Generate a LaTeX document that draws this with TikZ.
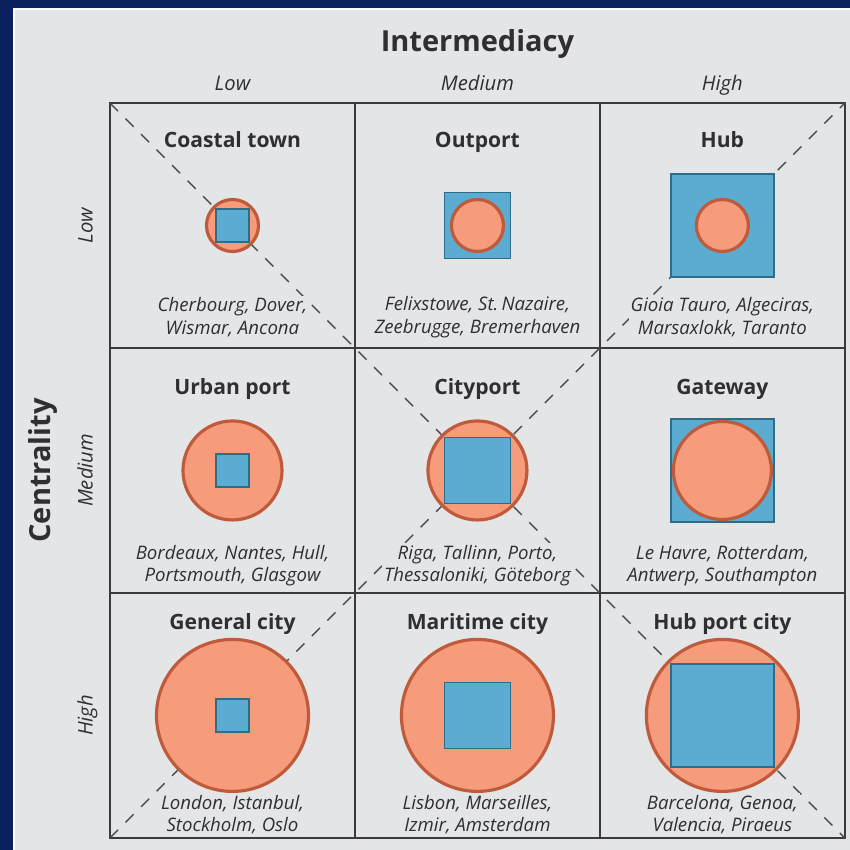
\documentclass[tikz,border=0pt]{standalone}
\usepackage{fontspec}
\setmainfont{Open Sans}
\usetikzlibrary{positioning}
\definecolor{navy}{HTML}{0B215E}
\definecolor{panelgray}{HTML}{E4E5E7}
\definecolor{salmon}{HTML}{F79B7D}
\definecolor{salmonrim}{HTML}{BF5A3A}
\definecolor{portblue}{HTML}{5BACD0}
\definecolor{portrim}{HTML}{2E6D88}
\definecolor{gridline}{HTML}{3A3A3C}
\definecolor{inkgray}{HTML}{2F2F31}
\tikzset{
  cell/.style={draw=gridline,line width=1.1pt,minimum size=4.9cm,inner sep=0pt,outer sep=0pt},
  citydisc/.style={circle,draw=salmonrim,fill=salmon,line width=1.8pt,minimum size=#1*0.02cm,inner sep=0pt},
  portbox/.style={rectangle,draw=portrim,fill=portblue,line width=1pt,minimum size=#1*0.02cm,inner sep=0pt},
  diag/.style={draw=gray!60!black,line width=0.8pt,dash pattern=on 6.5pt off 6pt},
  heading/.style={text=inkgray,text height=0.75em,text depth=0.22em,font=\bfseries\fontsize{12}{14}\selectfont},
  ports/.style={text=inkgray,fill=panelgray,inner sep=1pt,align=center,font=\itshape\fontsize{10.6}{12.8}\selectfont},
  level/.style={text=inkgray,text height=0.75em,text depth=0.22em,font=\itshape\fontsize{11.5}{13}\selectfont},
  axis/.style={text=inkgray,font=\bfseries\fontsize{16.5}{18}\selectfont}
}
\begin{document}
\begin{tikzpicture}[x=0.02cm,y=-0.02cm,node distance=4.9cm,on grid]
  \useasboundingbox (0,0) rectangle (850,850);
  \fill[navy] (0,0) rectangle (850,850);
  \filldraw[fill=panelgray,draw=white!80!panelgray,line width=1pt] (14,9) rectangle (852,852);
  % the nine cells
  \node[cell](c11) at (232.5,225.5) {};
  \node[cell](c12)[right=of c11] {};
  \node[cell](c13)[right=of c12] {};
  \node[cell](c21)[below=of c11] {};
  \node[cell](c22)[right=of c21] {};
  \node[cell](c23)[right=of c22] {};
  \node[cell](c31)[below=of c21] {};
  \node[cell](c32)[right=of c31] {};
  \node[cell](c33)[right=of c32] {};
  \draw[diag] (c11.north west) -- (c33.south east);
  \draw[diag] (c31.south west) -- (c13.north east);
  % axes
  \node[level](intlow)[above=2.8cm of c11] {Low};
  \node[level](intmed)[above=2.8cm of c12] {Medium};
  \node[level](inthigh)[above=2.8cm of c13] {High};
  \node[axis](intermediacy)[above=0.84cm of intmed] {Intermediacy};
  \node[level,rotate=90](cenlow)[left=2.89cm of c11] {Low};
  \node[level,rotate=90](cenmed)[left=2.89cm of c21] {Medium};
  \node[level,rotate=90](cenhigh)[left=2.89cm of c31] {High};
  \node[axis,rotate=90](centrality)[left=0.9cm of cenmed] {Centrality};
  % shapes
  \node[citydisc=52](coastaldisc) at (c11) {};
  \node[portbox=33](coastalbox) at (c11) {};
  \node[portbox=66](outportbox) at (c12) {};
  \node[citydisc=52](outportdisc) at (c12) {};
  \node[portbox=103](hubbox) at (c13) {};
  \node[citydisc=52](hubdisc) at (c13) {};
  \node[citydisc=99](urbandisc) at (c21) {};
  \node[portbox=33](urbanbox) at (c21) {};
  \node[citydisc=99](citydisc) at (c22) {};
  \node[portbox=66](citybox) at (c22) {};
  \node[portbox=103](gatewaybox) at (c23) {};
  \node[citydisc=98](gatewaydisc) at (c23) {};
  \node[citydisc=152](generaldisc) at (c31) {};
  \node[portbox=33](generalbox) at (c31) {};
  \node[citydisc=152](maritimedisc) at (c32) {};
  \node[portbox=66](maritimebox) at (c32) {};
  \node[citydisc=152](hubcitydisc) at (c33) {};
  \node[portbox=103](hubcitybox) at (c33) {};
  % titles
  \node[heading](coastal)[above=1.66cm of c11] {Coastal town};
  \node[heading](outport)[above=1.66cm of c12] {Outport};
  \node[heading](hub)[above=1.66cm of c13] {Hub};
  \node[heading](urban)[above=1.61cm of c21] {Urban port};
  \node[heading](cityport)[above=1.61cm of c22] {Cityport};
  \node[heading](gateway)[above=1.61cm of c23] {Gateway};
  \node[heading](general)[above=1.81cm of c31] {General city};
  \node[heading](maritime)[above=1.81cm of c32] {Maritime city};
  \node[heading](hubcity)[above=1.81cm of c33] {Hub port city};
  % examples
  \node[ports](coastalports)[below=1.83cm of c11] {Cherbourg, Dover,\\Wismar, Ancona};
  \node[ports](outportports)[below=1.83cm of c12] {Felixstowe, St.\,Nazaire,\\Zeebrugge, Bremerhaven};
  \node[ports](hubports)[below=1.83cm of c13] {Gioia Tauro, Algeciras,\\Marsaxlokk, Taranto};
  \node[ports](urbanports)[below=1.9cm of c21] {Bordeaux, Nantes, Hull,\\Portsmouth, Glasgow};
  \node[ports](cityports)[below=1.9cm of c22] {Riga, Tallinn, Porto,\\Thessaloniki, Göteborg};
  \node[ports](gatewayports)[below=1.9cm of c23] {Le Havre, Rotterdam,\\Antwerp, Southampton};
  \node[ports](generalports)[below=1.98cm of c31] {London, Istanbul,\\Stockholm, Oslo};
  \node[ports](maritimeports)[below=1.98cm of c32] {Lisbon, Marseilles,\\Izmir, Amsterdam};
  \node[ports](hubcityports)[below=1.98cm of c33] {Barcelona, Genoa,\\Valencia, Piraeus};
\end{tikzpicture}
\end{document}
